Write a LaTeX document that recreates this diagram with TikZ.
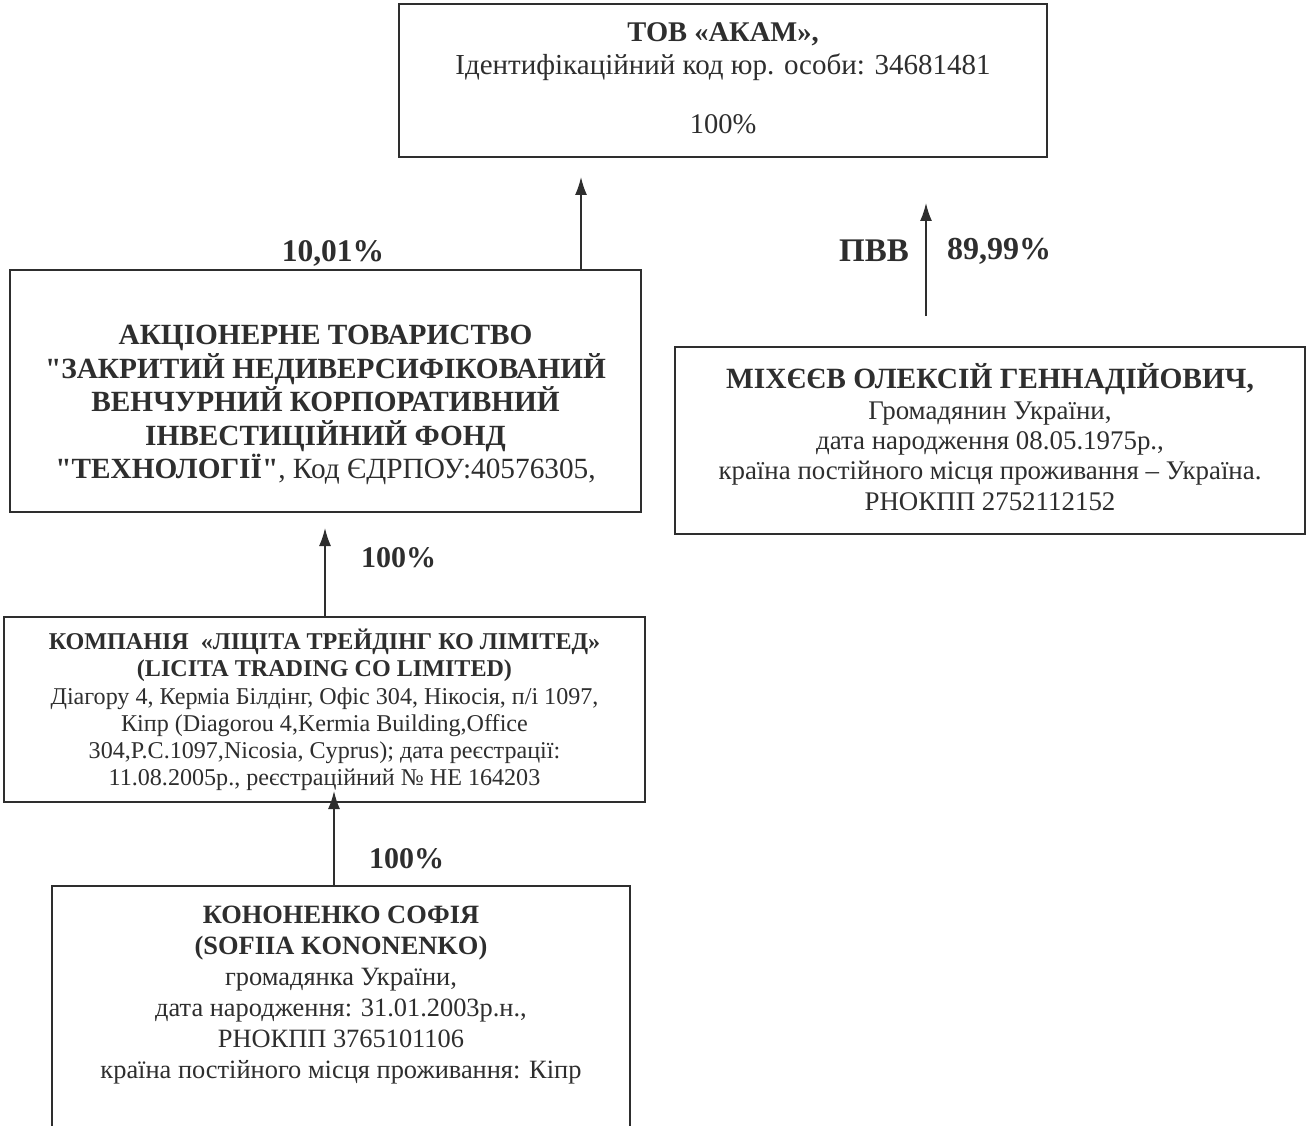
\documentclass[tikz,border=0pt]{standalone}
\usepackage{fontspec}
\setmainfont{Liberation Serif}[Ligatures=TeXOff]
\usetikzlibrary{arrows.meta}
\definecolor{ink}{gray}{0.18}
\tikzset{
  box/.style={draw=ink, line width=1.6pt, inner sep=0pt},
  txt/.style={text=ink, align=center, inner sep=0pt},
  arr/.style={draw=ink, line width=1.6pt, -{Latex[length=18pt,width=12pt]}},
  lbl/.style={text=ink, inner sep=0pt, font=\fontsize{31}{33}\selectfont\bfseries}
}
\begin{document}
\begin{tikzpicture}[x=1pt,y=-1pt]
\useasboundingbox (0,0) rectangle (1306,1126);
\fill[white] (0,0) rectangle (1306,1126);
% boxes
\node[box, minimum width=648pt, minimum height=153pt] (akam) at (723,80.5) {};
\node[box, minimum width=631pt, minimum height=242pt] (at) at (325.5,391) {};
\node[box, minimum width=630pt, minimum height=187pt] (mikh) at (990,440.5) {};
\node[box, minimum width=641pt, minimum height=185pt] (lic) at (324.5,709.5) {};
\node[box, minimum width=578pt, minimum height=300pt] (kon) at (341,1036) {};
% texts
\node[txt, font=\fontsize{28.5}{30}\selectfont\bfseries] (akamT1) at (723,34) {ТОВ «АКАМ»,};
\node[txt, font=\fontsize{29}{30}\selectfont] (akamT2) at (723,67) {Ідентифікаційний код юр. особи: 34681481};
\node[txt, font=\fontsize{28.5}{30}\selectfont] (akamT3) at (723,124) {100\%};
\node[txt, font=\fontsize{29.3}{33.5}\selectfont\bfseries] (atT) at (325.5,405) {АКЦІОНЕРНЕ ТОВАРИСТВО\\"ЗАКРИТИЙ НЕДИВЕРСИФІКОВАНИЙ\\ВЕНЧУРНИЙ КОРПОРАТИВНИЙ\\ІНВЕСТИЦІЙНИЙ ФОНД\\"ТЕХНОЛОГІЇ"{\mdseries, Код ЄДРПОУ:40576305,}};
\node[txt, font=\fontsize{29.4}{30}\selectfont\bfseries] (mikhT1) at (990,379) {МІХЄЄВ ОЛЕКСІЙ ГЕННАДІЙОВИЧ,};
\node[txt, font=\fontsize{26.9}{30.4}\selectfont] (mikhT2) at (990,456) {Громадянин України,\\дата народження 08.05.1975р.,\\країна постійного місця проживання – Україна.\\РНОКПП 2752112152};
\node[txt, font=\fontsize{24.1}{27.2}\selectfont] (licT) at (324.5,710) {\textbf{КОМПАНІЯ\ \ «ЛІЦІТА ТРЕЙДІНГ КО ЛІМІТЕД»}\\\textbf{(LICITA TRADING CO LIMITED)}\\Діагору 4, Керміа Білдінг, Офіс 304, Нікосія, п/і 1097,\\Кіпр (Diagorou 4,Kermia Building,Office\\304,P.C.1097,Nicosia, Cyprus); дата реєстрації:\\11.08.2005р., реєстраційний № НЕ 164203};
\node[txt, font=\fontsize{26.4}{31}\selectfont] (konT) at (341,995) {\textbf{КОНОНЕНКО СОФІЯ}\\\textbf{(SOFIIA KONONENKO)}\\громадянка України,\\дата народження: 31.01.2003р.н.,\\РНОКПП 3765101106\\країна постійного місця проживання: Кіпр};
% labels
\node[lbl, font=\fontsize{31.5}{33}\selectfont\bfseries] (l1) at (333,253) {10,01\%};
\node[lbl, font=\fontsize{33}{33}\selectfont\bfseries] (l2a) at (874,251) {ПВВ};
\node[lbl, font=\fontsize{32}{33}\selectfont\bfseries] (l2b) at (999,251) {89,99\%};
\node[lbl, font=\fontsize{30}{33}\selectfont\bfseries] (l3) at (398.5,558) {100\%};
\node[lbl, font=\fontsize{30}{33}\selectfont\bfseries] (l4) at (406.5,859) {100\%};
% connectors
\coordinate (e1) at (581,177);
\coordinate (s2) at (926,316);
\coordinate (e2) at (926,203);
\coordinate (e3) at (325,528);
\coordinate (e4) at (334,791);
\draw[arr] (at.north -| e1) -- (e1);
\draw[arr] (s2) -- (e2);
\draw[arr] (lic.north -| e3) -- (e3);
\draw[arr] (kon.north -| e4) -- (e4);
\end{tikzpicture}
\end{document}
